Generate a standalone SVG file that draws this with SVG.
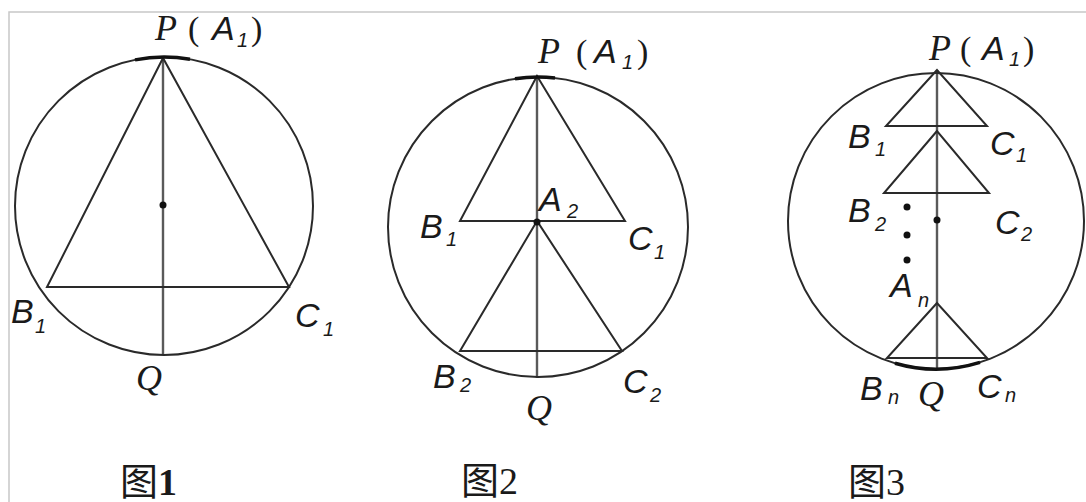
<svg xmlns="http://www.w3.org/2000/svg" width="1086" height="502" viewBox="0 0 1086 502">
<style>
.bg{fill:#ffffff}
.frame{stroke:#c8c8c8;stroke-width:1.5;fill:none}
.ln{stroke:#2a2a2a;stroke-width:2;fill:none}
.ax{stroke:#5a5a5a;stroke-width:2.4;fill:none}
.thk{stroke:#111;stroke-width:3.5;fill:none}
.dot{fill:#111}
.sf{font-family:"Liberation Serif",serif;font-style:italic;font-size:36px;fill:#1a1a1a}
.ss{font-family:"Liberation Sans",sans-serif;font-style:italic;font-size:34px;fill:#1a1a1a}
.sub{font-family:"Liberation Sans",sans-serif;font-style:italic;font-size:20px;fill:#1a1a1a}
.par{font-family:"Liberation Serif",serif;font-size:34px;fill:#1a1a1a}
.cap{font-family:"Liberation Serif","Noto Sans CJK SC",serif;font-size:38px;fill:#1a1a1a}
</style>
<rect class="bg" x="0" y="0" width="1086" height="502"/>
<path class="frame" d="M9,502 V12 H1086"/>

<g id="connectors">
  <!-- figure 1 -->
  <line class="ax" x1="163" y1="58" x2="163" y2="355"/>
  <polygon class="ln" points="163,58 47,287 289,287"/>
  <!-- figure 2 -->
  <line class="ax" x1="537" y1="76" x2="537" y2="378"/>
  <polygon class="ln" points="537,76 460,221 625,221"/>
  <polygon class="ln" points="537,221 460,351 622,351"/>
  <!-- figure 3 -->
  <line class="ax" x1="937" y1="70" x2="937" y2="369"/>
  <polygon class="ln" points="937,70 886,126 987,126"/>
  <polygon class="ln" points="937,131 884,193 989,193"/>
  <polygon class="ln" points="937,303 887,358 987,358"/>
</g>

<g id="fig1">
  <circle class="ln" cx="164" cy="206" r="149"/>
  <path class="thk" d="M135,59.9 A149,149 0 0 1 190,59.3"/>
  <circle class="dot" cx="163" cy="205" r="3.5"/>
  <text class="sf" x="155" y="40">P</text>
  <text class="par" x="188" y="40">(</text>
  <text class="ss" x="212" y="40">A</text>
  <text class="sub" x="237" y="47">1</text>
  <text class="par" x="251" y="40">)</text>
  <text class="ss" x="11" y="323">B</text>
  <text class="sub" x="35" y="333">1</text>
  <text class="ss" x="295" y="327">C</text>
  <text class="sub" x="323" y="336">1</text>
  <text class="sf" x="136" y="390">Q</text>
  <text class="cap" x="120" y="495">图<tspan font-weight="bold">1</tspan></text>
</g>

<g id="fig2">
  <circle class="ln" cx="538" cy="227" r="150"/>
  <path class="thk" d="M515,78.8 A150,150 0 0 1 555,78"/>
  <circle class="dot" cx="537" cy="222" r="3.5"/>
  <text class="sf" x="538" y="63">P</text>
  <text class="par" x="576" y="63">(</text>
  <text class="ss" x="594" y="63">A</text>
  <text class="sub" x="622" y="69">1</text>
  <text class="par" x="637" y="63">)</text>
  <text class="ss" x="420" y="238">B</text>
  <text class="sub" x="446" y="246">1</text>
  <text class="ss" x="539" y="211">A</text>
  <text class="sub" x="567" y="218">2</text>
  <text class="ss" x="628" y="250">C</text>
  <text class="sub" x="654" y="259">1</text>
  <text class="ss" x="433" y="388">B</text>
  <text class="sub" x="460" y="392">2</text>
  <text class="ss" x="623" y="393">C</text>
  <text class="sub" x="650" y="402">2</text>
  <text class="sf" x="526" y="420">Q</text>
  <text class="cap" x="461" y="494">图2</text>
</g>

<g id="fig3">
  <circle class="ln" cx="936" cy="221" r="148"/>
  <path class="thk" d="M895,363.2 A148,148 0 0 0 980,362.3"/>
  <circle class="dot" cx="937" cy="220" r="3.5"/>
  <circle class="dot" cx="907" cy="207" r="3.5"/>
  <circle class="dot" cx="907" cy="235" r="3.5"/>
  <circle class="dot" cx="907" cy="260" r="3.5"/>
  <text class="sf" x="929" y="60">P</text>
  <text class="par" x="960" y="60">(</text>
  <text class="ss" x="982" y="60">A</text>
  <text class="sub" x="1009" y="66">1</text>
  <text class="par" x="1023" y="60">)</text>
  <text class="ss" x="848" y="148">B</text>
  <text class="sub" x="875" y="156">1</text>
  <text class="ss" x="990" y="155">C</text>
  <text class="sub" x="1016" y="162">1</text>
  <text class="ss" x="848" y="222">B</text>
  <text class="sub" x="875" y="231">2</text>
  <text class="ss" x="995" y="234">C</text>
  <text class="sub" x="1021" y="241">2</text>
  <text class="ss" x="890" y="297">A</text>
  <text class="sub" x="918" y="307">n</text>
  <text class="ss" x="860" y="400">B</text>
  <text class="sub" x="888" y="404">n</text>
  <text class="sf" x="918" y="406">Q</text>
  <text class="ss" x="977" y="398">C</text>
  <text class="sub" x="1005" y="402">n</text>
  <text class="cap" x="848" y="495">图3</text>
</g>
</svg>
